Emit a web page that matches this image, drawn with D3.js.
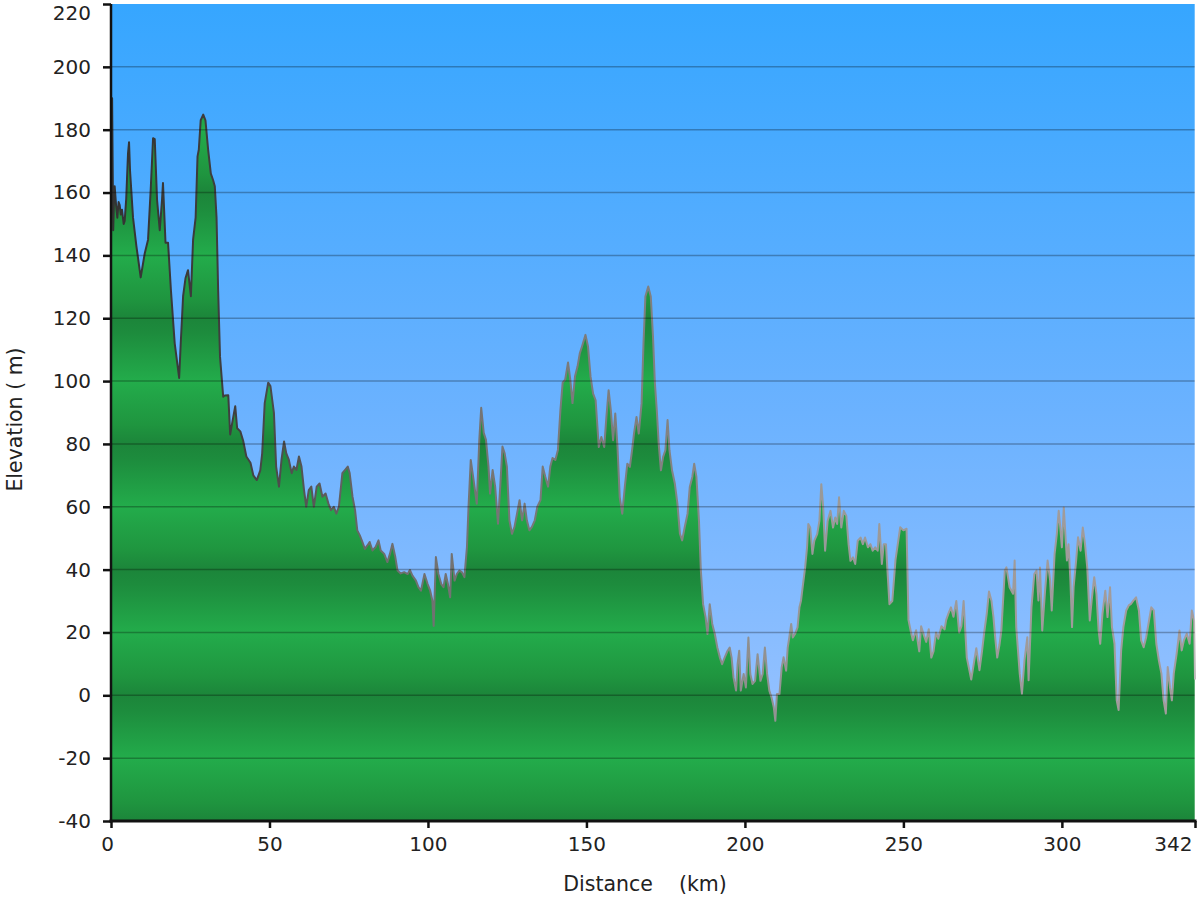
<!DOCTYPE html>
<html>
<head>
<meta charset="utf-8">
<script src="https://cdn.jsdelivr.net/npm/d3@7"></script>
<style>
  html, body { margin: 0; padding: 0; background: #ffffff; }
  svg { display: block; }
  text { font-family: "DejaVu Sans", Verdana, sans-serif; fill: #222; }
</style>
</head>
<body>
<svg id="chart" width="1200" height="900"></svg>
<script>
// ---- data ----
const distanceKm = [
  0,0.35,0.7,0.95,1.16,1.6,2.0,2.4,2.74,3.1,3.48,4.0,4.32,4.8,5.37,5.69,6.0,6.95,8.0,9.37,
  10.64,11.69,12.53,13.27,13.8,14.53,15.38,16.1,16.4,17.2,18.0,18.9,20.1,21.5,22.0,22.75,23.5,24.3,25.2,25.9,
  26.7,27.3,27.7,28.3,29.1,29.8,30.65,31.5,32.2,32.75,33.3,33.8,34.4,35.4,35.9,37.0,37.6,38.3,39.2,39.8,
  40.8,41.7,42.7,44.0,44.9,46.0,47.1,47.7,48.5,49.6,50.3,51.4,52.1,53.0,53.8,54.6,55.3,56.1,57.0,57.7,
  58.5,59.3,60.1,60.9,61.6,62.4,63.2,64.0,64.9,65.8,66.7,67.7,68.6,69.4,70.3,71.1,71.9,73.0,73.8,74.7,
  75.3,76.2,77.0,77.7,78.5,79.3,80.1,80.9,81.6,82.5,83.5,84.4,85.1,86.2,87.2,88.0,88.8,89.7,90.4,91.4,
  92.5,93.6,94.3,95.1,96.2,97.0,97.8,98.9,99.9,100.7,101.4,101.8,102.5,103.3,104.2,104.9,105.6,106.3,107.0,107.5,
  108.4,109.1,109.9,110.7,111.5,112.3,112.8,113.5,114.4,115.4,116.2,116.8,117.6,118.3,119.1,119.6,120.4,121.2,122.1,122.8,
  123.5,124.2,124.9,125.7,126.5,127.3,128.1,128.9,129.7,130.5,131.2,132.0,132.8,133.7,134.5,135.5,136.2,137.0,137.9,138.6,
  139.3,140.2,141.0,141.8,142.5,143.3,144.2,144.9,145.6,146.4,147.2,147.9,148.6,149.7,150.5,151.3,152.1,152.9,153.9,154.7,
  155.6,156.3,157.0,157.7,158.4,159.1,159.8,160.5,161.3,162.1,162.9,163.7,164.4,165.0,165.8,166.5,167.4,168.0,168.6,169.5,
  170.3,171.0,171.6,172.2,172.8,173.5,174.2,174.9,175.6,176.2,177.0,177.9,178.7,179.5,180.2,181.0,181.9,182.6,183.4,184.0,
  184.7,185.5,186.1,186.8,187.6,188.2,188.9,189.7,190.5,191.3,192.1,192.8,193.6,194.5,195.2,195.8,196.4,197.2,197.7,198.2,
  198.7,199.6,200.3,201.1,201.7,202.4,203.2,204.0,204.9,205.6,206.3,207.0,207.7,208.4,209.1,209.6,210.1,210.9,211.6,212.2,
  213.0,213.5,214.0,214.6,215.1,215.8,216.6,217.2,217.7,218.2,219.0,219.6,220.0,220.6,221.3,221.9,222.8,223.5,224.1,224.7,
  225.3,226.1,227.0,227.8,228.5,229.1,229.7,230.4,231.2,232.0,232.7,233.3,234.1,234.8,235.6,236.5,237.2,237.9,238.8,239.6,
  240.3,241.1,241.9,242.4,243.2,243.8,244.5,245.1,245.6,246.5,247.5,249.0,250.0,251.0,251.6,252.4,253.0,254.0,255.0,255.6,
  256.5,257.2,258.0,258.8,259.5,260.3,261.0,262.0,263.0,263.5,264.2,265.0,265.8,266.7,267.6,268.3,269.0,270.0,270.8,271.4,
  272.2,273.0,274.0,274.8,275.5,276.3,277.0,277.8,278.4,279.0,279.6,280.3,280.9,282.0,282.5,283.5,284.6,285.1,285.6,286.7,
  287.4,288.2,289.1,289.5,290.4,291.3,292.0,292.6,293.1,293.8,294.7,295.5,296.3,296.8,297.7,298.4,299.0,299.5,300.0,300.6,
  301.1,301.6,302.1,302.7,303.2,303.7,304.5,305.1,305.9,306.6,307.3,308.0,308.8,309.4,310.2,310.9,311.6,312.1,312.8,313.7,
  314.4,315.2,315.8,316.6,317.3,317.9,318.7,319.4,320.3,321.1,321.8,322.6,323.4,324.3,325.0,325.8,326.6,327.5,328.2,329.0,
  329.8,330.6,331.4,332.1,332.8,333.4,334.1,334.7,335.3,336.2,337.1,337.8,338.5,339.4,340.3,341.0,341.7,342.0
];
const elevationM = [
  152,190,148,158,162,156,152,157,156,153,154.5,150,151,158,172.5,176,167,152,143,133,
  140.6,145,161,177.3,177,157.7,148,157.7,163,144,144,129,112,101,112,127,132.7,135.3,127,145,
  152,171.5,173.6,183,184.8,183,173.6,166,164,162,152,129,107.7,95,95.4,95.5,83,87,92,85,
  84,81,76,74,70,68.5,71.6,77,93,99.5,98.4,89.9,72.8,66.4,75,80.8,77,75,70.7,72.8,
  71.7,76,72.8,65.3,60,65.3,66.4,60,66.4,67.4,63.2,64.2,61,58.9,60,57.8,60,70.7,71.7,72.8,
  70.7,63.2,58.9,52.5,50.9,48.8,46.6,47.7,48.8,46.1,47.2,49.3,46.1,45,42.4,45,48.2,44,39.7,38.8,
  39.2,38.6,39.9,38.1,36.5,34.4,33.3,38.6,35.4,33.3,30.1,22.1,44,38.6,35.4,34.4,38.6,35.4,31.2,45,
  36.5,38.6,39.7,39.2,37.6,47.2,60,74.9,68.5,61,81.3,91.5,83.5,81.3,72.8,64.2,71.7,66.4,54.6,66.4,
  79.2,77,72.8,55.7,51.4,53.6,57.8,62.1,55.7,61,55.7,52.5,53.6,55.7,60,62.1,72.8,69.6,66.4,72.8,
  75.5,74.9,78.1,90.9,99.5,100.5,105.9,100.5,93,101.5,104.7,108.8,111,114.7,111,101.4,96,93.9,79,82.2,
  79,88.6,97.1,90.7,81.2,89.7,79,63.1,57.8,66.3,73.7,72.7,78,83.3,88.6,83.3,92.9,112,126.9,130.1,
  126.9,114.1,99.3,90.7,80.1,71.6,75.9,78,87.6,78,71.6,67.3,61,51.4,49.3,53.5,57.8,66.3,69.5,73.7,
  69.5,55.6,39.7,29,24.8,19.5,29,22.7,19.5,15.2,12,9.9,12,14.1,15.2,12,5.7,1.5,10,14.2,
  1.5,6.8,2.5,18.4,6.8,3.6,4.6,13.1,4.6,6.8,15.2,6.8,1.5,-0.7,-3.8,-8.1,0.4,0.4,8.9,12.1,
  7.8,15.2,18.4,22.7,18.4,19.5,21.6,28,30.1,34.3,40.7,47.1,54.5,53.4,45,49.2,51.3,55.5,67.2,59.8,
  46,55.5,58.7,53.4,56.6,54.5,63,53.4,58.7,57.1,48.1,42.8,43.9,41.8,49.2,50.2,48.1,50.2,47.1,48.1,
  46,47.1,46,54.5,41.8,48.1,48.1,37.5,29,30,43,53.5,52.5,53,24,20,17.5,20.7,14,22,
  19,17,21,12,14,20,18,22,21,24,26,28,25,30,20,22,30,12,8,5,
  10,15,8,14,20,26,33,30,25,18,12,16,20.6,39.7,40.7,34.4,32.3,42.9,21.7,6.9,
  0.5,11.1,18.5,4.8,28,38.6,39.7,30.2,40.7,20.6,33.3,42.9,36.5,27,45,51.3,58.7,53.4,47.1,59.8,
  51.3,42.9,48.1,36.5,21.7,34.4,42.9,50.3,46,53.4,48.1,40.7,23.8,30.2,37.6,32.3,20.6,16.4,25.9,33.3,
  24.9,34.4,21.7,16.4,-1.6,-4.7,14.3,21.7,27,28.6,29.1,30.2,31.2,27,17.5,15.3,18.5,23.8,28,27,
  16.4,11.1,6.9,-1.6,-5.8,9,2.6,-1.6,6.9,13.2,20.6,14.3,17.5,19.6,16.4,27,23.8,5
];
const yTicks = [-40,-20,0,20,40,60,80,100,120,140,160,180,200,220];
const xTicks = [0,50,100,150,200,250,300,342];
const yTitle = "Elevation ( m)";
const xTitleMain = "Distance";
const xTitleUnit = "(km)";

// ---- layout ----
const svg = d3.select("#chart");
const pLeft = 111, pRight = 1195, pTop = 4, pBottom = 821;
const x = d3.scaleLinear().domain([0, 342]).range([pLeft, pRight]);
const y = d3.scaleLinear().domain([-40, 220]).range([pBottom, pTop]);

const defs = svg.append("defs");
const sky = defs.append("linearGradient").attr("id","sky")
  .attr("gradientUnits","userSpaceOnUse").attr("x1",0).attr("x2",0).attr("y1",pTop).attr("y2",pBottom);
sky.append("stop").attr("offset","0").attr("stop-color","#36a6ff");
sky.append("stop").attr("offset","0.5").attr("stop-color","#6bb2ff");
sky.append("stop").attr("offset","1").attr("stop-color","#a2c6ff");

const grass = defs.append("linearGradient").attr("id","grass")
  .attr("gradientUnits","userSpaceOnUse").attr("spreadMethod","repeat")
  .attr("x1",0).attr("x2",0).attr("y1",y(0)).attr("y2",y(-40));
grass.append("stop").attr("offset","0").attr("stop-color","#1c853a");
grass.append("stop").attr("offset","0.12").attr("stop-color","#1d8c3d");
grass.append("stop").attr("offset","0.5").attr("stop-color","#23ac4b");
grass.append("stop").attr("offset","0.85").attr("stop-color","#1f953f");
grass.append("stop").attr("offset","1").attr("stop-color","#1c853a");

const edge = defs.append("linearGradient").attr("id","edge")
  .attr("gradientUnits","userSpaceOnUse").attr("x1",pLeft).attr("x2",pRight).attr("y1",0).attr("y2",0);
edge.append("stop").attr("offset","0").attr("stop-color","#333333");
edge.append("stop").attr("offset","0.12").attr("stop-color","#404040");
edge.append("stop").attr("offset","0.25").attr("stop-color","#6e6e6e");
edge.append("stop").attr("offset","0.5").attr("stop-color","#808080");
edge.append("stop").attr("offset","0.65").attr("stop-color","#999999");
edge.append("stop").attr("offset","1").attr("stop-color","#a39c9c");

// background
svg.append("rect").attr("x", pLeft).attr("y", pTop)
  .attr("width", pRight - pLeft).attr("height", pBottom - pTop).attr("fill","url(#sky)");

const pts = distanceKm.map((d,i)=>[d, elevationM[i]]);

svg.append("path").datum(pts)
  .attr("fill","url(#grass)")
  .attr("d", d3.area().x(d=>x(d[0])).y0(y(-40)).y1(d=>y(d[1])));

svg.append("path").datum(pts)
  .attr("fill","none").attr("stroke","url(#edge)").attr("stroke-width",2).attr("stroke-linejoin","round")
  .attr("d", d3.line().x(d=>x(d[0])).y(d=>y(d[1])));

// grid lines
svg.append("g").selectAll("line").data(yTicks.filter(t=>t>-40 && t<220)).join("line")
  .attr("x1", pLeft).attr("x2", pRight)
  .attr("y1", d=>y(d)).attr("y2", d=>y(d))
  .attr("stroke","rgba(0,0,0,0.28)").attr("stroke-width",1.5);

// right edge
svg.append("line").attr("x1", pRight).attr("x2", pRight).attr("y1", pTop).attr("y2", pBottom)
  .attr("stroke","rgba(255,255,255,0.6)").attr("stroke-width",1);

// axes
const plainNum = d => String(d);
const yAxis = d3.axisLeft(y).tickValues(yTicks).tickSize(8).tickPadding(12).tickFormat(plainNum);
const gy = svg.append("g").attr("transform",`translate(${pLeft},0)`).call(yAxis);
const xAxis = d3.axisBottom(x).tickValues(xTicks).tickSize(7).tickPadding(9).tickFormat(plainNum);
const gx = svg.append("g").attr("transform",`translate(0,${pBottom})`).call(xAxis);
[gy, gx].forEach(g=>{
  g.select(".domain").remove();
  g.selectAll(".tick line").attr("stroke","#111").attr("stroke-width",2.5);
  g.selectAll(".tick text").attr("font-size",20).attr("fill","#222")
    .style("font-family",'"DejaVu Sans", Verdana, sans-serif');
});
// keep the end labels inside the picture, as in the reference
gy.selectAll(".tick").filter(d=>d===220).select("text").attr("y",9);
gx.selectAll(".tick").filter(d=>d===342).select("text").attr("text-anchor","end").attr("x",-3);
gx.selectAll(".tick").filter(d=>d===0).select("text").attr("x",-4);

svg.append("line").attr("x1",pLeft).attr("x2",pLeft).attr("y1",pTop).attr("y2",pBottom+1.5)
  .attr("stroke","#111").attr("stroke-width",2.5);
svg.append("line").attr("x1",pLeft-1.5).attr("x2",pRight+1.5).attr("y1",pBottom).attr("y2",pBottom)
  .attr("stroke","#111").attr("stroke-width",3);

// titles
svg.append("text").attr("transform",`translate(22,${(pTop+pBottom)/2 + 7}) rotate(-90)`)
  .attr("text-anchor","middle").attr("font-size",20.5).text(yTitle);
const xt = svg.append("text").attr("x",645).attr("y",891)
  .attr("text-anchor","middle").attr("font-size",20.5);
xt.append("tspan").text(xTitleMain);
xt.append("tspan").attr("dx",26).text(xTitleUnit);
</script>
</body>
</html>
